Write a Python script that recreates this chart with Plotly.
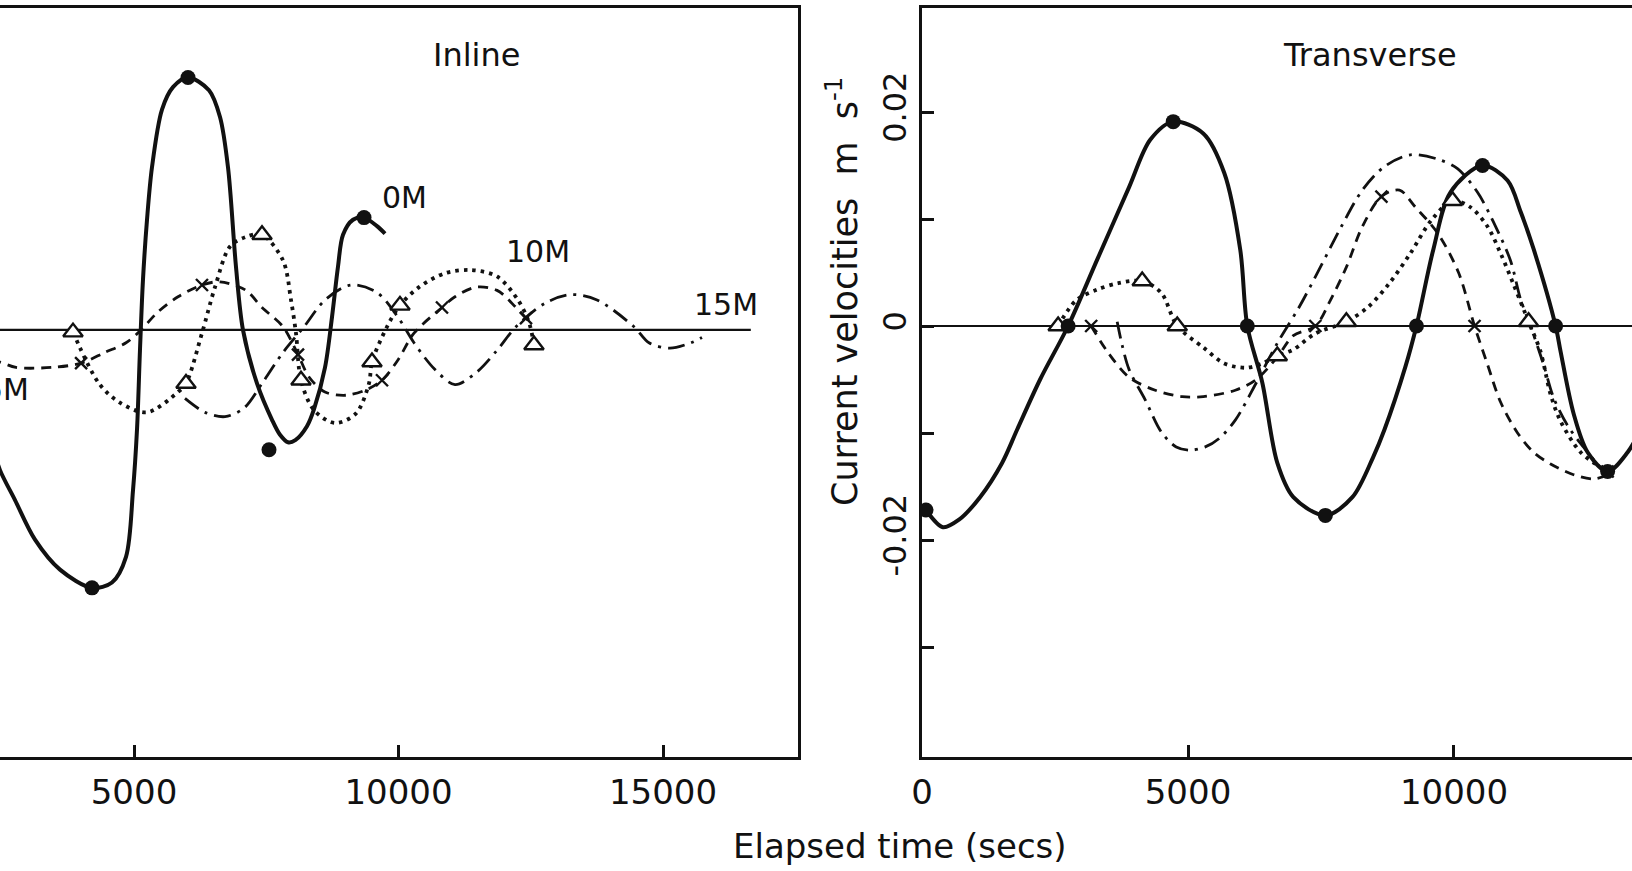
import plotly.graph_objects as go

# ---------------- Inline panel (left) ----------------
inl_0m_t = [2316, 2467, 2751, 3129, 3601, 4206, 4584, 4849, 4981, 5057, 5113, 5170, 5246, 5340, 5529, 5737, 6021,
            6418, 6626, 6777, 6928, 7060, 7325, 7609, 7760, 7911, 8050, 8270, 8403, 8611, 8743, 8856, 8951, 9140,
            9348, 9594, 9745]
inl_0m_v = [-0.0107, -0.0131, -0.0159, -0.0196, -0.0224, -0.0241, -0.0236, -0.0212, -0.0150, -0.0093, -0.0019, 0.0047,
            0.0103, 0.0152, 0.0206, 0.0227, 0.0236, 0.0224, 0.0199, 0.0152, 0.0059, 0.0, -0.0050, -0.0084, -0.0098,
            -0.0105, -0.0103, -0.0090, -0.0074, -0.0035, 0.0012, 0.0059, 0.0089, 0.0103, 0.0105, 0.0097, 0.0090]
inl_0m_dot_t = [4206, 6021, 9348, 7552]
inl_0m_dot_v = [-0.0241, 0.0236, 0.0105, -0.0112]

inl_5m_t = [2300, 2467, 2769, 3450, 4000, 4450, 4849, 5135, 5435, 5832, 6285, 6626, 7117, 7420, 7817, 8100, 8308, 8610,
            9008, 9385, 9688, 9990, 10293, 10822, 11068, 11465, 11863, 12221, 12410]
inl_5m_v = [-0.0029, -0.0030, -0.0035, -0.0035, -0.0031, -0.0021, -0.0012, 0.0, 0.0016, 0.0031, 0.0042, 0.0045, 0.0037,
            0.0021, 0.0003, -0.0023, -0.0044, -0.0058, -0.0061, -0.0056, -0.0047, -0.0028, -0.0003, 0.0021, 0.0031,
            0.0040, 0.0037, 0.0021, 0.0011]
inl_5m_x_t = [4000, 6285, 8100, 9688, 10822, 12410]
inl_5m_x_v = [-0.0031, 0.0042, -0.0023, -0.0047, 0.0021, 0.0011]

inl_10m_t = [3847, 4338, 4735, 5246, 5832, 5983, 6285, 6531, 6815, 7117, 7420, 7817, 7968, 8062, 8157, 8403, 8800,
             9197, 9442, 9499, 9783, 10028, 10388, 10879, 11371, 11863, 12259, 12467, 12561]
inl_10m_v = [-0.0002, -0.0050, -0.0068, -0.0077, -0.0058, -0.0050, -0.0003, 0.0040, 0.0078, 0.0087, 0.0089, 0.0065,
             0.0028, -0.0003, -0.0047, -0.0075, -0.0087, -0.0078, -0.0050, -0.0030, 0.0003, 0.0023, 0.0040, 0.0053,
             0.0056, 0.0050, 0.0028, 0.0007, -0.0014]
inl_10m_tri_t = [3847, 5983, 7420, 8157, 9499, 10028, 12561]
inl_10m_tri_v = [-0.0002, -0.0050, 0.0089, -0.0047, -0.0030, 0.0023, -0.0014]

inl_15m_t = [5964, 6342, 6721, 7079, 7420, 7817, 8214, 8611, 9102, 9594, 9990, 10293, 10690, 11068, 11465, 11863,
             12221, 12770, 13261, 13753, 14452, 14735, 15132, 15529, 15737]
inl_15m_v = [-0.0064, -0.0077, -0.0081, -0.0073, -0.0050, -0.0021, 0.0003, 0.0028, 0.0042, 0.0035, 0.0012, -0.0012,
             -0.0037, -0.0051, -0.0040, -0.0019, 0.0003, 0.0025, 0.0033, 0.0028, 0.0003, -0.0012, -0.0017, -0.0012,
             -0.0007]

inl_zero_end = 16660

# ---------------- Transverse panel (right) ----------------
tr_0m_t = [75, 395, 696, 1091, 1505, 1787, 2220, 2747, 3293, 3895, 4290, 4722, 5287, 5682, 5983, 6115, 6397, 6679,
           6980, 7582, 8090, 8485, 8692, 9087, 9294, 9614, 9934, 10536, 11007, 11251, 11496, 11910, 12004, 12249,
           12512, 12888, 13264, 13509]
tr_0m_v = [-0.0172, -0.0188, -0.0181, -0.0160, -0.0128, -0.0097, -0.0050, 0.0, 0.0062, 0.0130, 0.0174, 0.0191,
           0.0180, 0.0143, 0.0071, 0.0, -0.0053, -0.0128, -0.0160, -0.0177, -0.0160, -0.0122, -0.0097, -0.0038,
           0.0, 0.0072, 0.0125, 0.0150, 0.0136, 0.0107, 0.0072, 0.0, -0.0024, -0.0082, -0.0118, -0.0136, -0.0118,
           -0.0097]
tr_0m_dot_t = [75, 2747, 4722, 6115, 7582, 9294, 10536, 11910, 12888]
tr_0m_dot_v = [-0.0172, 0.0, 0.0191, 0.0, -0.0177, 0.0, 0.0150, 0.0, -0.0136]

tr_5m_t = [3180, 3500, 3895, 4384, 4892, 5287, 5889, 6284, 6679, 6980, 7394, 7676, 7977, 8278, 8636, 8975, 9276,
           9690, 10085, 10386, 10630, 10875, 11195, 11496, 11816, 12249, 12625, 12888]
tr_5m_v = [0.0, -0.0025, -0.0048, -0.0060, -0.0066, -0.0066, -0.0060, -0.0050, -0.0029, -0.0009, 0.0, 0.0024,
           0.0055, 0.0093, 0.0121, 0.0127, 0.0111, 0.0087, 0.0050, 0.0, -0.0036, -0.0071, -0.0100, -0.0118, -0.0129,
           -0.0139, -0.0143, -0.0139]
tr_5m_x_t = [3180, 7394, 8636, 10386, 12888]
tr_5m_x_v = [0.0, 0.0, 0.0121, 0.0, -0.0136]

tr_10m_t = [2559, 2897, 3293, 3688, 4139, 4497, 4798, 5287, 5682, 6096, 6397, 6679, 6980, 7394, 7977, 8391, 8786,
            9181, 9577, 9972, 10310, 10630, 10875, 11119, 11402, 11627, 11816, 12004, 12380, 12756, 12888]
tr_10m_v = [0.0, 0.0024, 0.0034, 0.0040, 0.0042, 0.0031, 0.0, -0.0020, -0.0035, -0.0039, -0.0035, -0.0028, -0.0022,
            -0.0007, 0.0004, 0.0018, 0.0040, 0.0068, 0.0099, 0.0117, 0.0111, 0.0093, 0.0068, 0.0039, 0.0004, -0.0024,
            -0.0064, -0.0089, -0.0118, -0.0132, -0.0136]
tr_10m_tri_t = [2559, 4139, 4798, 6679, 7977, 9972, 11402]
tr_10m_tri_v = [0.0, 0.0042, 0.0, -0.0028, 0.0004, 0.0117, 0.0004]

tr_15m_t = [3669, 3763, 3895, 4196, 4497, 4779, 5042, 5325, 5588, 5889, 6284, 6679, 7093, 7488, 7883, 8278, 8692,
            9181, 9690, 10066, 10442, 10743, 11063, 11251, 11439, 11684, 11872, 12135, 12512, 12813]
tr_15m_v = [0.0004, -0.0018, -0.0041, -0.0069, -0.0099, -0.0113, -0.0116, -0.0113, -0.0105, -0.0088, -0.0053,
            -0.0016, 0.0018, 0.0055, 0.0093, 0.0127, 0.0149, 0.0160, 0.0156, 0.0147, 0.0125, 0.0097, 0.0061, 0.0025,
            0.0, -0.0036, -0.0067, -0.0093, -0.0118, -0.0136]

x_ticks_left = [5000, 10000, 15000]
x_tick_text_left = ["5000", "10000", "15000"]
x_ticks_right = [0, 5000, 10000]
x_tick_text_right = ["0", "5000", "10000"]
y_ticks_right = [-0.03, -0.02, -0.01, 0.0, 0.01, 0.02]
y_tick_text_right = ["", "-0.02", "", "0", "", "0.02"]

BLACK = "#111111"
FONT = "DejaVu Sans"
W, H = 1632, 871
TOP, BOTTOM = 8, 757

fig = go.Figure()


def curve(t, v, dash, width, xa, ya):
    fig.add_trace(go.Scatter(x=t, y=v, mode="lines", xaxis=xa, yaxis=ya,
                             line=dict(color=BLACK, width=width, dash=dash, shape="spline", smoothing=0.9),
                             hoverinfo="skip", showlegend=False))


def dots(t, v, xa, ya):
    fig.add_trace(go.Scatter(x=t, y=v, mode="markers", xaxis=xa, yaxis=ya,
                             marker=dict(symbol="circle", size=15, color=BLACK, line=dict(width=0)),
                             hoverinfo="skip", showlegend=False))


def triangles(t, v, xa, ya):
    fig.add_trace(go.Scatter(x=t, y=v, mode="markers", xaxis=xa, yaxis=ya,
                             marker=dict(symbol="triangle-up", size=17, color="white",
                                         line=dict(color=BLACK, width=2.4)),
                             hoverinfo="skip", showlegend=False))


def crosses(t, v, xa, ya):
    fig.add_trace(go.Scatter(x=t, y=v, mode="markers", xaxis=xa, yaxis=ya,
                             marker=dict(symbol="x-thin", size=12, color=BLACK,
                                         line=dict(color=BLACK, width=2.4)),
                             hoverinfo="skip", showlegend=False))


DOT = "3.5px,5px"
DASH = "10px,7px"
DASHDOT = "17px,7px,3px,7px"

# left panel
curve(inl_5m_t, inl_5m_v, DASH, 2.8, "x", "y")
curve(inl_10m_t, inl_10m_v, DOT, 3.8, "x", "y")
curve(inl_15m_t, inl_15m_v, DASHDOT, 2.8, "x", "y")
curve(inl_0m_t, inl_0m_v, "solid", 4, "x", "y")
dots(inl_0m_dot_t, inl_0m_dot_v, "x", "y")
triangles(inl_10m_tri_t, inl_10m_tri_v, "x", "y")
crosses(inl_5m_x_t, inl_5m_x_v, "x", "y")

# right panel
curve(tr_5m_t, tr_5m_v, DASH, 2.8, "x2", "y2")
curve(tr_10m_t, tr_10m_v, DOT, 3.8, "x2", "y2")
curve(tr_15m_t, tr_15m_v, DASHDOT, 2.8, "x2", "y2")
curve(tr_0m_t, tr_0m_v, "solid", 4, "x2", "y2")
triangles(tr_10m_tri_t, tr_10m_tri_v, "x2", "y2")
dots(tr_0m_dot_t, tr_0m_dot_v, "x2", "y2")
crosses(tr_5m_x_t, tr_5m_x_v, "x2", "y2")

# zero line in the inline panel
fig.add_shape(type="line", xref="x", yref="y", x0=2000, x1=inl_zero_end, y0=0, y1=0,
              line=dict(color=BLACK, width=2.2), layer="below")

axis_common = dict(showgrid=False, zeroline=False, linecolor=BLACK, linewidth=3, automargin=False,
                   ticks="inside", ticklen=12, tickwidth=2.5, tickcolor=BLACK,
                   tickfont=dict(family=FONT, size=34, color=BLACK))

fig.update_layout(
    template="none",
    width=W, height=H,
    margin=dict(l=0, r=0, t=TOP, b=H - BOTTOM, pad=0, autoexpand=False),
    paper_bgcolor="white", plot_bgcolor="white",
    font=dict(family=FONT, color=BLACK),
    xaxis=dict(domain=[0, 798 / W], range=[2467, 17552], tickvals=x_ticks_left, ticktext=x_tick_text_left,
               showline=True, mirror=True, ticklabelstandoff=3, **axis_common),
    yaxis=dict(domain=[0, 1], range=[-0.03991, 0.03009], showline=True, side="right", mirror=False,
               showticklabels=False, showgrid=False, zeroline=False, ticks="", linecolor=BLACK, linewidth=3,
               automargin=False),
    xaxis2=dict(domain=[922 / W, 1], range=[0, 13346], tickvals=x_ticks_right, ticktext=x_tick_text_right,
                anchor="y2", showline=True, mirror=True, ticklabelstandoff=3, **axis_common),
    yaxis2=dict(domain=[0, 1], range=[-0.04028, 0.02972], anchor="x2", tickvals=y_ticks_right,
                ticktext=y_tick_text_right, tickangle=-90, showline=True, mirror=False,
                ticklabelstandoff=0, **axis_common),
)
fig.update_layout(yaxis2_zeroline=True, yaxis2_zerolinecolor=BLACK, yaxis2_zerolinewidth=2.2,
                  yaxis2_tickfont_size=32)

ann = []
ann.append(dict(text="Inline", x=11465, y=0.0257, xref="x", yref="y", showarrow=False,
                xanchor="center", yanchor="middle", font=dict(family=FONT, size=32, color=BLACK)))
ann.append(dict(text="Transverse", x=8429, y=0.0253, xref="x2", yref="y2", showarrow=False,
                xanchor="center", yanchor="middle", font=dict(family=FONT, size=32, color=BLACK)))
for txt, tx, ty, xan in [("0M", 10104, 0.0124, "center"), ("10M", 12637, 0.0073, "center"),
                         ("15M", 16200, 0.0024, "center"), ("5M", 3053, -0.0056, "right")]:
    ann.append(dict(text=txt, x=tx, y=ty, xref="x", yref="y", showarrow=False, xanchor=xan,
                    yanchor="middle", font=dict(family=FONT, size=30, color=BLACK)))
ann.append(dict(text="Current velocities  m  s<sup>-1</sup>", textangle=-90, x=842 / W,
                y=(BOTTOM - 292) / (BOTTOM - TOP), xref="paper", yref="paper", showarrow=False,
                xanchor="center", yanchor="middle", font=dict(family=FONT, size=35, color=BLACK)))
ann.append(dict(text="Elapsed time (secs)", x=900 / W, y=(BOTTOM - 846) / (BOTTOM - TOP),
                xref="paper", yref="paper", showarrow=False, xanchor="center", yanchor="middle",
                font=dict(family=FONT, size=34, color=BLACK)))
fig.update_layout(annotations=ann)

fig.write_html("out.html")
